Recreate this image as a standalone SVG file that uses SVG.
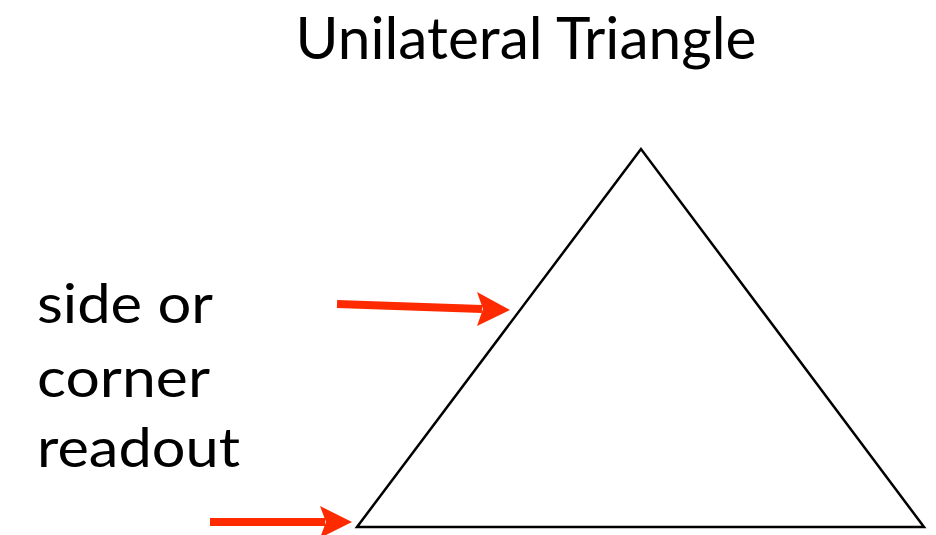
<svg xmlns="http://www.w3.org/2000/svg" width="936" height="535" viewBox="0 0 936 535">
<style>
text{font-family:"Lato","Open Sans","Liberation Sans",sans-serif;fill:#000}
.t{font-size:58px}
.l{font-size:54px}
.arrow{stroke:#ff2a00;stroke-width:8;fill:none}
.head{fill:#ff2a00}
</style>
<rect width="936" height="535" fill="#fff"/>
<g id="title"><text class="t" x="526" y="59" text-anchor="middle" textLength="461" lengthAdjust="spacingAndGlyphs">Unilateral Triangle</text></g>
<g id="triangle"><polygon points="641,149 357,527 924,527" fill="none" stroke="#000" stroke-width="2.5" stroke-linejoin="miter"/></g>
<g id="label">
<text class="l" x="37" y="323" textLength="176" lengthAdjust="spacingAndGlyphs">side or</text>
<text class="l" x="37" y="397" textLength="173" lengthAdjust="spacingAndGlyphs">corner</text>
<text class="l" x="37" y="467" textLength="203" lengthAdjust="spacingAndGlyphs">readout</text>
</g>
<g id="connectors">
<line class="arrow" x1="337" y1="304" x2="482" y2="309"/>
<polygon class="head" points="477,292 510,310 477,326 483,309"/>
<line class="arrow" x1="210" y1="522" x2="325" y2="522"/>
<polygon class="head" points="320,506 352,522 320,538 326,522"/>
</g>
</svg>
